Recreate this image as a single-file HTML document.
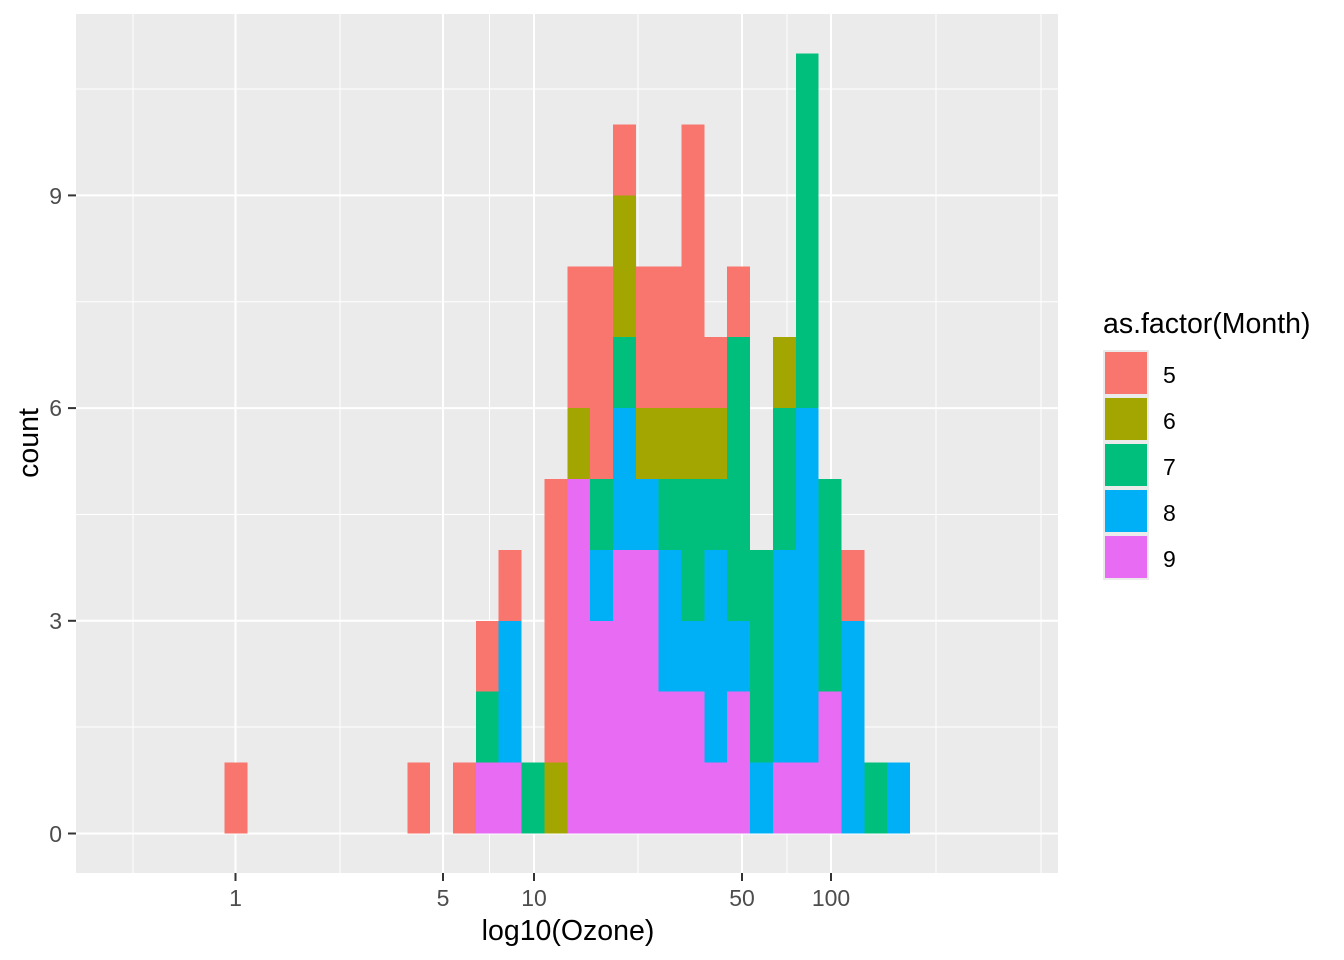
<!DOCTYPE html>
<html><head><meta charset="utf-8"><style>
html,body{margin:0;padding:0;background:#fff}
svg{display:block}
text{font-family:"Liberation Sans",Arial,sans-serif}
</style></head><body>
<svg width="1344" height="960" viewBox="0 0 1344 960" xmlns="http://www.w3.org/2000/svg">
<rect x="76" y="14" width="982" height="859" fill="#EBEBEB"/>
<g stroke="#fff" stroke-width="1">
<line x1="76" x2="1058" y1="727" y2="727"/><line x1="76" x2="1058" y1="514.5" y2="514.5"/>
<line x1="76" x2="1058" y1="301.8" y2="301.8"/><line x1="76" x2="1058" y1="89" y2="89"/>
<line x1="133" x2="133" y1="14" y2="873"/><line x1="340" x2="340" y1="14" y2="873"/>
<line x1="489.5" x2="489.5" y1="14" y2="873"/><line x1="638" x2="638" y1="14" y2="873"/>
<line x1="787" x2="787" y1="14" y2="873"/><line x1="936" x2="936" y1="14" y2="873"/>
<line x1="1041" x2="1041" y1="14" y2="873"/>
</g>
<g stroke="#fff" stroke-width="2">
<line x1="76" x2="1058" y1="833.5" y2="833.5"/><line x1="76" x2="1058" y1="620.8" y2="620.8"/>
<line x1="76" x2="1058" y1="408.1" y2="408.1"/><line x1="76" x2="1058" y1="195.4" y2="195.4"/>
<line x1="235.5" x2="235.5" y1="14" y2="873"/><line x1="443" x2="443" y1="14" y2="873"/>
<line x1="534" x2="534" y1="14" y2="873"/><line x1="742" x2="742" y1="14" y2="873"/>
<line x1="831" x2="831" y1="14" y2="873"/>
</g>
<g transform="translate(453,833.5) scale(22.85,-70.9)" shape-rendering="crispEdges">
<g fill="#F8766D">
<rect x="-10" y="0" width="1" height="1"/><rect x="-2" y="0" width="1" height="1"/>
<rect x="0" y="0" width="1" height="1"/><rect x="1" y="2" width="1" height="1"/>
<rect x="2" y="3" width="1" height="1"/><rect x="4" y="1" width="1" height="4"/>
<rect x="5" y="6" width="1" height="2"/><rect x="6" y="5" width="1" height="3"/>
<rect x="7" y="9" width="1" height="1"/><rect x="8" y="6" width="1" height="2"/>
<rect x="9" y="6" width="1" height="2"/><rect x="10" y="6" width="1" height="4"/>
<rect x="11" y="6" width="1" height="1"/><rect x="12" y="7" width="1" height="1"/>
<rect x="17" y="3" width="1" height="1"/>
</g>
<g fill="#A3A500">
<rect x="4" y="0" width="1" height="1"/><rect x="5" y="5" width="1" height="1"/>
<rect x="7" y="7" width="1" height="2"/><rect x="8" y="5" width="1" height="1"/>
<rect x="9" y="5" width="1" height="1"/><rect x="10" y="5" width="1" height="1"/>
<rect x="11" y="5" width="1" height="1"/><rect x="14" y="6" width="1" height="1"/>
</g>
<g fill="#00BF7D">
<rect x="1" y="1" width="1" height="1"/><rect x="3" y="0" width="1" height="1"/>
<rect x="6" y="4" width="1" height="1"/><rect x="7" y="6" width="1" height="1"/>
<rect x="9" y="4" width="1" height="1"/><rect x="10" y="3" width="1" height="2"/>
<rect x="11" y="4" width="1" height="1"/><rect x="12" y="3" width="1" height="4"/>
<rect x="13" y="1" width="1" height="3"/><rect x="14" y="4" width="1" height="2"/>
<rect x="15" y="6" width="1" height="5"/><rect x="16" y="2" width="1" height="3"/>
<rect x="18" y="0" width="1" height="1"/>
</g>
<g fill="#00B0F6">
<rect x="2" y="1" width="1" height="2"/><rect x="6" y="3" width="1" height="1"/>
<rect x="7" y="4" width="1" height="2"/><rect x="8" y="4" width="1" height="1"/>
<rect x="9" y="2" width="1" height="2"/><rect x="10" y="2" width="1" height="1"/>
<rect x="11" y="1" width="1" height="3"/><rect x="12" y="2" width="1" height="1"/>
<rect x="13" y="0" width="1" height="1"/><rect x="14" y="1" width="1" height="3"/>
<rect x="15" y="1" width="1" height="5"/><rect x="17" y="0" width="1" height="3"/>
<rect x="19" y="0" width="1" height="1"/>
</g>
<g fill="#E76BF3">
<rect x="1" y="0" width="1" height="1"/><rect x="2" y="0" width="1" height="1"/>
<rect x="5" y="0" width="1" height="5"/><rect x="6" y="0" width="1" height="3"/>
<rect x="7" y="0" width="1" height="4"/><rect x="8" y="0" width="1" height="4"/>
<rect x="9" y="0" width="1" height="2"/><rect x="10" y="0" width="1" height="2"/>
<rect x="11" y="0" width="1" height="1"/><rect x="12" y="0" width="1" height="2"/>
<rect x="14" y="0" width="1" height="1"/><rect x="15" y="0" width="1" height="1"/>
<rect x="16" y="0" width="1" height="2"/>
</g>
</g>
<g stroke="#333" stroke-width="2">
<line x1="68" x2="76" y1="833.5" y2="833.5"/><line x1="68" x2="76" y1="620.8" y2="620.8"/>
<line x1="68" x2="76" y1="408.1" y2="408.1"/><line x1="68" x2="76" y1="195.4" y2="195.4"/>
<line x1="235.5" x2="235.5" y1="873" y2="881"/><line x1="443" x2="443" y1="873" y2="881"/>
<line x1="534" x2="534" y1="873" y2="881"/><line x1="742" x2="742" y1="873" y2="881"/>
<line x1="831" x2="831" y1="873" y2="881"/>
</g>
<g fill="#4D4D4D" font-size="23" text-anchor="end">
<text x="62" y="842">0</text><text x="62" y="629">3</text>
<text x="62" y="416">6</text><text x="62" y="204">9</text>
</g>
<g fill="#4D4D4D" font-size="23" text-anchor="middle">
<text x="235.5" y="906">1</text><text x="443" y="906">5</text>
<text x="534" y="906">10</text><text x="742" y="906">50</text>
<text x="831" y="906">100</text>
</g>
<text x="568" y="940" font-size="28.5" text-anchor="middle" fill="#000">log10(Ozone)</text>
<text transform="translate(38,443) rotate(-90)" font-size="28.5" text-anchor="middle" fill="#000">count</text>
<text x="1103" y="333" font-size="28.5" fill="#000">as.factor(Month)</text>
<rect x="1103" y="350" width="46" height="230" fill="#EBEBEB"/>
<rect x="1105" y="352" width="42" height="42" fill="#F8766D"/>
<rect x="1105" y="398" width="42" height="42" fill="#A3A500"/>
<rect x="1105" y="444" width="42" height="42" fill="#00BF7D"/>
<rect x="1105" y="490" width="42" height="42" fill="#00B0F6"/>
<rect x="1105" y="536" width="42" height="42" fill="#E76BF3"/>
<g font-size="23" fill="#000">
<text x="1163" y="383">5</text><text x="1163" y="429">6</text>
<text x="1163" y="475">7</text><text x="1163" y="521">8</text>
<text x="1163" y="567">9</text>
</g>
</svg>
</body></html>
